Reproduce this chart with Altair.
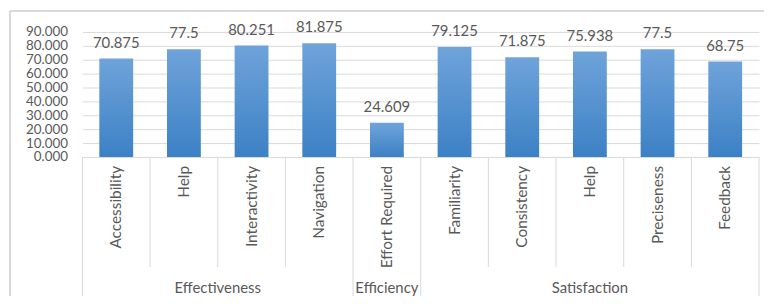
import altair as alt
import pandas as pd

groups = ["Effectiveness", "Effectiveness", "Effectiveness", "Effectiveness",
          "Efficiency",
          "Satisfaction", "Satisfaction", "Satisfaction", "Satisfaction", "Satisfaction"]
categories = ["Accessibility", "Help", "Interactivity", "Navigation", "Effort Required",
              "Familiarity", "Consistency", "Help", "Preciseness", "Feedback"]
values = [70.875, 77.5, 80.251, 81.875, 24.609, 79.125, 71.875, 75.938, 77.5, 68.75]
value_labels = ["70.875", "77.5", "80.251", "81.875", "24.609",
                "79.125", "71.875", "75.938", "77.5", "68.75"]
y_ticks = [0, 10, 20, 30, 40, 50, 60, 70, 80, 90]

df = pd.DataFrame({
    "idx": list(range(len(categories))),
    "group": groups,
    "category": categories,
    "value": values,
    "label": value_labels,
})

# category boundaries (between bands), flagged as group boundary or not
bounds = []
n = len(categories)
for i in range(n + 1):
    left = groups[i - 1] if i > 0 else None
    right = groups[i] if i < n else None
    bounds.append({"pos": i - 0.5, "kind": "group" if left != right else "cat"})
bdf = pd.DataFrame(bounds)

GRAY = "#595959"
LINE = "#D9D9D9"
FONT = "Lato"

xscale = alt.Scale(domain=[-0.5, n - 0.5], nice=False, zero=False)
yscale = alt.Scale(domain=[0, 90], nice=False)
yaxis = alt.Axis(values=y_ticks, tickCount=10, format=".3f", title=None,
                 domain=False, ticks=False, labelPadding=15,
                 labelOverlap=False, labelFontSize=13.5,
                 labelColor=GRAY, labelFont=FONT,
                 grid=True, gridColor=LINE, gridWidth=1)

gradient = alt.Gradient(
    gradient="linear",
    stops=[alt.GradientStop(color="#6fa3da", offset=0),
           alt.GradientStop(color="#3c81c5", offset=1)],
    x1=0, x2=0, y1=0, y2=1,
)

base = alt.Chart(df)

bars = base.transform_calculate(
    x0="datum.idx - 0.25", x1="datum.idx + 0.25"
).mark_bar(color=gradient).encode(
    x=alt.X("x0:Q", scale=xscale, axis=None),
    x2="x1:Q",
    y=alt.Y("value:Q", scale=yscale, axis=yaxis),
    y2=alt.datum(0),
)

vlabels = base.mark_text(baseline="alphabetic", dy=-11, fontSize=15,
                         color=GRAY, font=FONT).encode(
    x=alt.X("idx:Q", scale=xscale, axis=None),
    y=alt.Y("value:Q", scale=yscale, axis=yaxis),
    text="label:N",
)

clabels = base.mark_text(angle=270, align="right", baseline="middle",
                         fontSize=15.5, color=GRAY, font=FONT).encode(
    x=alt.X("idx:Q", scale=xscale, axis=None),
    y=alt.value(135),
    text="category:N",
)

glabels = base.transform_aggregate(
    center="mean(idx)", groupby=["group"]
).mark_text(baseline="middle", fontSize=15, color=GRAY, font=FONT).encode(
    x=alt.X("center:Q", scale=xscale, axis=None),
    y=alt.value(258),
    text="group:N",
)

bchart = alt.Chart(bdf)
cat_rules = bchart.transform_filter("datum.kind == 'cat'").mark_rule(
    color=LINE, strokeWidth=1).encode(
    x=alt.X("pos:Q", scale=xscale, axis=None),
    y=alt.value(126), y2=alt.value(237),
)
grp_rules = bchart.transform_filter("datum.kind == 'group'").mark_rule(
    color=LINE, strokeWidth=1).encode(
    x=alt.X("pos:Q", scale=xscale, axis=None),
    y=alt.value(126), y2=alt.value(275),
)

top_border = alt.Chart(bdf).mark_rule(color=LINE, strokeWidth=1.5).encode(
    x=alt.value(-73), x2=alt.value(690), y=alt.value(-21),
)
left_border = alt.Chart(bdf).mark_rule(color=LINE, strokeWidth=1.5).encode(
    x=alt.value(-73), y=alt.value(-21), y2=alt.value(275),
)

chart = alt.layer(
    top_border, left_border, cat_rules, grp_rules, bars, vlabels, clabels, glabels
).properties(
    width=682, height=126,
    autosize=alt.AutoSizeParams(type="none"),
    padding={"left": 75, "top": 23, "right": 5, "bottom": 139},
    background="white",
).configure_view(stroke=None)

chart.save("out.html", embed_options={"renderer": "svg", "actions": False})
